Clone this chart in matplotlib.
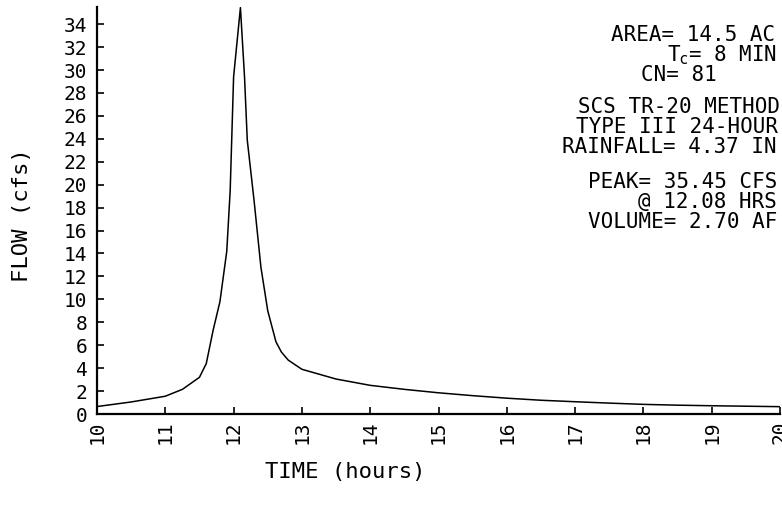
import matplotlib
matplotlib.use("Agg")
import matplotlib.pyplot as plt

time_hr = [10.0, 10.5, 11.0, 11.25, 11.5, 11.6, 11.7, 11.8, 11.9, 11.95, 12.0, 12.1,
           12.16, 12.2, 12.3, 12.4, 12.5, 12.62, 12.7, 12.8, 13.0, 13.5, 14.0, 14.5,
           15.0, 15.5, 16.0, 16.5, 17.0, 17.5, 18.0, 18.5, 19.0, 20.0]
flow_cfs = [0.65, 1.05, 1.55, 2.15, 3.2, 4.4, 7.3, 9.8, 14.2, 19.5, 29.4, 35.45,
            29.4, 23.9, 18.6, 12.8, 9.0, 6.3, 5.4, 4.7, 3.9, 3.05, 2.5, 2.15,
            1.85, 1.6, 1.38, 1.2, 1.07, 0.95, 0.84, 0.77, 0.72, 0.64]
x_ticks = list(range(10, 21))
y_ticks = list(range(0, 35, 2))
info_lines = ["AREA= 14.5 AC", "T$_\\mathrm{c}$= 8 MIN", "CN= 81",
              "SCS TR-20 METHOD", "TYPE III 24-HOUR", "RAINFALL= 4.37 IN",
              "PEAK= 35.45 CFS", "@ 12.08 HRS", "VOLUME= 2.70 AF"]

W, H = 782, 512
fig = plt.figure(figsize=(W / 100, H / 100), dpi=100)
ax = fig.add_axes([97 / W, 1 - 414 / H, (780 - 97) / W, (414 - 7) / H])
ax.plot(time_hr, flow_cfs, color="black", lw=1.1)
ax.set_xlim(10, 20)
ax.set_ylim(0, 35.5)
ax.set_xticks(x_ticks)
ax.set_yticks(y_ticks)
mono = "DejaVu Sans Mono"
ax.set_xticklabels([str(v) for v in x_ticks], rotation=90, family=mono, fontsize=14)
ax.set_yticklabels([str(v) for v in y_ticks], family=mono, fontsize=14)
ax.tick_params(axis="both", direction="in", length=5, width=1.2)
ax.tick_params(axis="y", pad=7)
ax.tick_params(axis="x", pad=5)
for s in ["top", "right"]:
    ax.spines[s].set_visible(False)
for s in ["left", "bottom"]:
    ax.spines[s].set_linewidth(1.6)

fig.text(345 / W, 1 - 472 / H, "TIME (hours)", family=mono, fontsize=16,
         ha="center", va="center")
fig.text(22 / W, 1 - 215 / H, "FLOW (cfs)", family=mono, fontsize=16,
         ha="center", va="center", rotation=90)

pos = [(775, 35), (777, 55), (717, 75), (780, 107), (778, 127), (777, 147),
       (777, 182), (777, 202), (777, 222)]
for txt, (x, y) in zip(info_lines, pos):
    fig.text(x / W, 1 - y / H, txt, family=mono, fontsize=15, ha="right", va="center")

fig.savefig("out.png", dpi=100)
